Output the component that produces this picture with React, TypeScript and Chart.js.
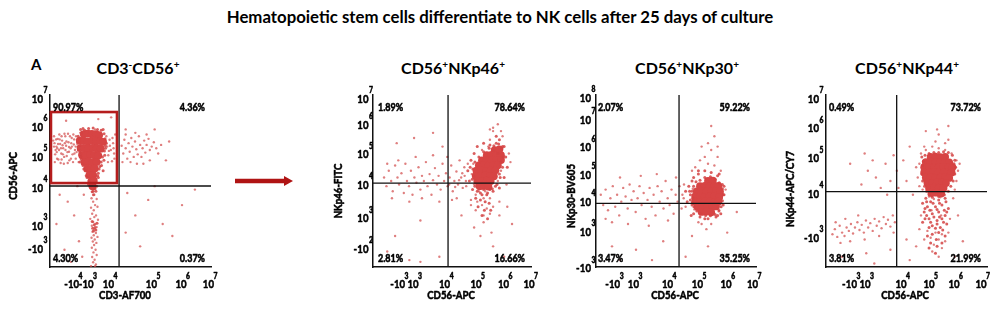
import React, { useEffect, useRef } from "react";
import { Chart, registerables } from "chart.js";
Chart.register(...registerables);

const MAIN_TITLE = "Hematopoietic stem cells differentiate to NK cells after 25 days of culture";

// ---------- Plot 1: CD3-AF700 vs CD56-APC (channel units 0-1000) ----------
const p1XTicks = [146, 236, 363, 630, 814, 984];
const p1XLabels = ["-10^4", "-10^3", "10^4", "10^5", "10^6", "10^7"];
const p1YTicks = [977, 814, 640, 459, 238, 105];
const p1YLabels = ["10^7", "10^6", "10^5", "10^4", "10^3", "-10^3"];
const p1Quadrant = [429, 471];
const p1Gate = [6, 488, 416, 901];
const p1Percent = ["90.97%", "4.36%", "4.30%", "0.37%"];
const p1Core = [
  [210, 772], [235, 776], [260, 774], [285, 772], [305, 766],
  [185, 735], [210, 732], [235, 730], [260, 734], [285, 730], [310, 732], [330, 728],
  [190, 692], [215, 690], [240, 688], [265, 692], [290, 690], [315, 688],
  [200, 650], [225, 648], [250, 652], [275, 650], [300, 648],
  [215, 610], [240, 612], [265, 608], [290, 610],
  [232, 572], [255, 570], [278, 572],
  [245, 536], [268, 534], [258, 500], [272, 502], [264, 470],
];
const p1Halo = [
  [178, 745], [182, 700], [186, 665], [195, 625], [205, 590], [218, 560], [230, 520], [242, 500], [250, 465], [280, 455],
  [288, 490], [296, 530], [305, 570], [318, 610], [326, 640], [338, 675], [344, 705], [342, 745], [336, 775], [318, 795],
  [295, 800], [268, 808], [240, 805], [215, 795], [195, 780], [172, 725], [176, 680], [188, 650], [310, 585], [300, 545],
  [256, 480], [268, 440], [175, 760], [190, 800], [205, 805], [330, 800], [350, 720], [340, 650], [190, 640], [200, 600],
  [320, 590], [330, 560], [210, 570], [225, 530], [300, 520], [240, 480], [290, 470], [345, 690], [335, 620], [185, 610],
  [270, 210], [280, 230], [265, 225], [275, 245], [285, 215], [262, 265], [292, 255], [270, 420], [262, 438], [285, 440],
];
const p1Dots = [
  [25, 700], [32, 655], [38, 742], [45, 690], [52, 625], [58, 770], [63, 715], [70, 660], [75, 735], [82, 690],
  [88, 640], [95, 760], [100, 705], [108, 668], [115, 725], [120, 620], [128, 690], [135, 750], [140, 655], [148, 712],
  [155, 680], [160, 630], [168, 740], [175, 695], [182, 655], [188, 780], [30, 610], [48, 745], [66, 605], [92, 720],
  [112, 775], [143, 610], [178, 610], [20, 735], [56, 680], [104, 645], [124, 760], [160, 700], [40, 700], [86, 600],
  [28, 720], [42, 668], [60, 742], [78, 708], [96, 680], [118, 698], [132, 720], [150, 742], [165, 668], [72, 625],
  [35, 680], [50, 715], [68, 690], [80, 655], [102, 730], [118, 670], [136, 700], [152, 660], [170, 715], [185, 690],
  [25, 760], [44, 630], [90, 775], [130, 630], [162, 760], [72, 760], [110, 605], [145, 770],
  [355, 700], [362, 650], [370, 740], [378, 680], [385, 615], [392, 720], [398, 660], [405, 770], [360, 610], [372, 705],
  [388, 750], [400, 630], [350, 760], [366, 675], [395, 690], [320, 770], [280, 800],
  [445, 705], [455, 660], [462, 740], [470, 690], [480, 630], [488, 720], [495, 670], [505, 750], [512, 700], [520, 640],
  [528, 730], [536, 685], [545, 655], [552, 760], [560, 710], [568, 640], [575, 690], [585, 735], [592, 665], [600, 710],
  [612, 745], [620, 680], [632, 700], [645, 725], [660, 690], [672, 660], [690, 710], [450, 610], [500, 610], [540, 600],
  [580, 600], [620, 620], [470, 770], [530, 780], [600, 770],
  [275, 420], [258, 400], [290, 395], [268, 380], [280, 360], [255, 345], [295, 350],
  [272, 330], [262, 310], [286, 300], [275, 290], [250, 280], [298, 275], [268, 262], [282, 250], [260, 240], [290, 232],
  [276, 220], [264, 205], [285, 198], [272, 185], [258, 170], [295, 175], [278, 160], [266, 148], [288, 140], [274, 128],
  [260, 112], [283, 100], [270, 85], [290, 70], [262, 58], [277, 42], [268, 28], [285, 15], [255, 5], [280, 5],
  [60, 420], [110, 380], [150, 300], [40, 250], [180, 150], [90, 100], [200, 60], [130, 30], [210, 420], [170, 470],
  [480, 430], [530, 300], [610, 390], [700, 250], [820, 360], [560, 120], [760, 180], [650, 470], [900, 450], [470, 200],
  [100, 850], [300, 860], [470, 800], [650, 800], [740, 730], [720, 620], [380, 870],
];

// ---------- Plot 2: CD56-APC vs NKp46-FITC ----------
const p2XTicks = [168, 253, 453, 652, 826, 987];
const p2XLabels = ["-10^3", "10^3", "10^4", "10^5", "10^6", "10^7"];
const p2YTicks = [977, 826, 655, 477, 283, 105];
const p2YLabels = ["10^7", "10^6", "10^5", "10^4", "10^3", "-10^2"];
const p2Quadrant = [475, 488];
const p2Percent = ["1.89%", "78.64%", "2.81%", "16.66%"];
const p2Core = [
  [770, 680], [800, 684],
  [720, 650], [750, 652], [780, 648], [810, 650],
  [690, 620], [720, 622], [750, 618], [780, 620], [810, 622],
  [670, 590], [700, 592], [730, 588], [760, 590], [790, 592],
  [655, 560], [685, 562], [715, 558], [745, 560], [775, 562],
  [650, 530], [680, 528], [710, 532], [740, 530], [765, 528],
  [660, 500], [690, 498], [720, 502], [745, 500],
  [675, 470], [705, 472], [730, 468],
];
const p2Halo = [
  [615, 580], [628, 510], [645, 470], [660, 440], [690, 420], [725, 430], [755, 455], [785, 480], [805, 520], [820, 580],
  [825, 640], [815, 690], [795, 715], [765, 705], [735, 690], [700, 670], [670, 640], [645, 610], [632, 570], [638, 530],
  [650, 500], [700, 450], [740, 450], [775, 470], [800, 540], [810, 610], [790, 660], [760, 680], [740, 710], [830, 700],
  [650, 400], [680, 390], [710, 380], [735, 370], [665, 350], [705, 330], [745, 330], [690, 300], [725, 280],
  [600, 560], [610, 500], [620, 620], [630, 450], [640, 660], [660, 700], [680, 430], [700, 720], [720, 420], [760, 440],
  [780, 720], [800, 460], [820, 700], [830, 520], [840, 640], [850, 580], [780, 760], [800, 740],
];
const p2Dots = [
  [650, 420], [740, 740], [860, 660], [820, 760], [760, 790], [700, 400], [740, 400], [660, 380], [690, 360], [720, 340],
  [650, 330], [700, 300], [760, 350], [740, 310], [800, 380], [620, 390], [590, 470], [580, 530], [600, 600], [625, 540],
  [870, 610], [845, 480], [640, 480], [670, 440], [710, 440], [790, 500], [810, 560], [635, 600], [690, 680], [730, 700],
  [760, 810], [790, 830], [740, 800], [810, 790],
  [70, 520], [85, 470], [100, 560], [115, 500], [125, 440], [140, 590], [155, 520], [165, 480], [180, 545], [195, 430],
  [205, 600], [215, 500], [228, 470], [240, 560], [250, 420], [262, 520], [275, 490], [288, 580], [300, 450], [310, 530],
  [322, 500], [335, 610], [345, 470], [358, 540], [370, 420], [380, 505], [392, 575], [405, 480], [415, 530], [428, 450],
  [440, 600], [450, 500], [462, 545], [472, 470], [485, 520], [495, 590], [505, 440], [515, 500], [528, 555], [538, 480],
  [548, 620], [558, 520], [568, 460], [578, 580], [588, 500], [120, 400], [230, 380], [310, 400], [420, 380], [500, 390],
  [160, 620], [270, 640], [380, 650], [470, 640], [90, 600], [530, 400], [482, 480], [520, 465], [545, 505], [565, 545],
  [620, 360], [700, 260], [750, 200], [680, 180], [800, 300], [760, 120], [640, 230], [850, 350], [880, 250], [560, 300],
  [140, 180], [300, 270], [90, 90], [420, 60], [300, 30], [230, 40], [830, 60],
  [150, 720], [260, 750], [380, 780], [440, 700],
];

// ---------- Plot 3: CD56-APC vs NKp30-BV605 ----------
const p3XTicks = [116, 234, 447, 634, 813, 978];
const p3XLabels = ["-10^3", "10^3", "10^4", "10^5", "10^6", "10^7"];
const p3YTicks = [984, 855, 696, 535, 380, 205, -8];
const p3YLabels = ["10^8", "10^7", "10^6", "10^5", "10^4", "10^3", "-10^3"];
const p3Quadrant = [519, 370];
const p3Percent = ["2.07%", "59.22%", "3.47%", "35.25%"];
const p3Core = [
  [700, 500], [730, 502],
  [650, 470], [680, 472], [710, 468], [740, 470], [765, 472],
  [630, 440], [660, 442], [690, 438], [720, 440], [750, 442], [775, 438],
  [620, 410], [650, 412], [680, 408], [710, 410], [740, 412], [770, 408],
  [620, 380], [650, 378], [680, 382], [710, 380], [740, 378], [765, 380],
  [635, 350], [665, 352], [695, 348], [725, 350], [750, 352],
  [660, 320], [690, 322], [720, 318],
];
const p3Halo = [
  [605, 400], [600, 440], [610, 470], [625, 495], [650, 505], [680, 520], [715, 525], [745, 510], [770, 490], [790, 455],
  [795, 420], [790, 385], [782, 350], [768, 325], [745, 305], [715, 298], [685, 300], [655, 310], [630, 325], [612, 350],
  [603, 375], [590, 390], [585, 440], [600, 500], [770, 540], [800, 470], [640, 560], [760, 300], [680, 280],
  [590, 420], [600, 360], [580, 470], [610, 520], [640, 540], [680, 560], [720, 550], [760, 530], [790, 480], [800, 420],
  [795, 360], [780, 310], [750, 290], [700, 280], [650, 290], [610, 310], [595, 300], [570, 380], [560, 440],
];
const p3Dots = [
  [620, 580], [700, 600], [740, 590], [760, 640], [680, 640], [720, 680], [650, 620], [600, 560], [660, 250], [720, 250],
  [690, 220], [640, 260], [810, 450], [780, 560], [560, 350], [540, 420], [550, 480], [605, 455], [615, 335], [785, 400],
  [770, 330], [700, 720], [740, 760], [660, 700], [760, 700], [720, 820],
  [30, 420], [45, 360], [60, 450], [75, 330], [90, 400], [105, 470], [120, 350], [132, 420], [145, 300], [158, 380],
  [170, 460], [185, 410], [198, 340], [210, 480], [222, 390], [235, 440], [248, 320], [260, 400], [272, 470], [285, 360],
  [298, 430], [310, 280], [322, 390], [335, 460], [348, 350], [360, 420], [372, 300], [385, 470], [398, 380], [410, 440],
  [422, 340], [435, 500], [448, 400], [460, 360], [472, 450], [485, 310], [498, 420], [510, 380], [522, 470], [535, 340],
  [548, 400], [100, 260], [200, 250], [330, 240], [450, 270], [150, 520], [280, 530], [380, 540], [60, 280], [500, 520],
  [100, 120], [250, 100], [420, 150], [600, 180], [700, 120], [820, 200], [560, 60], [350, 40], [150, 40], [880, 320],
];

// ---------- Plot 4: CD56-APC vs NKp44-APC/CY7 ----------
const p4XTicks = [158, 242, 466, 640, 795, 963];
const p4XLabels = ["-10^3", "10^3", "10^4", "10^5", "10^6", "10^7"];
const p4YTicks = [977, 806, 632, 423, 170];
const p4YLabels = ["10^7", "10^6", "10^5", "10^4", "-10^3"];
const p4Quadrant = [439, 438];
const p4Percent = ["0.49%", "73.72%", "3.81%", "21.99%"];
const p4Core = [
  [650, 640], [680, 642], [710, 638], [740, 640],
  [620, 610], [650, 612], [680, 608], [710, 610], [740, 612], [765, 608],
  [610, 580], [640, 582], [670, 578], [700, 580], [730, 582], [760, 578], [785, 580],
  [610, 550], [640, 548], [670, 552], [700, 550], [730, 548], [760, 552], [780, 550],
  [620, 520], [650, 522], [680, 518], [710, 520], [740, 522], [765, 518],
  [630, 490], [660, 488], [690, 492], [720, 490], [745, 488],
  [640, 460], [670, 462], [700, 458], [730, 460],
  [655, 430], [685, 432], [715, 428],
];
const p4Halo = [
  [595, 640], [600, 590], [595, 540], [600, 500], [612, 470], [625, 440], [640, 420], [660, 405], [700, 410], [735, 420],
  [760, 440], [775, 470], [790, 500], [800, 540], [805, 580], [800, 620], [785, 650], [760, 665], [730, 670], [700, 665],
  [670, 665], [640, 660], [615, 650], [605, 615], [795, 600],
  [625, 380], [665, 370], [705, 370], [745, 380], [615, 340], [645, 330], [690, 335], [735, 330], [625, 300], [670, 290],
  [705, 290], [750, 320], [615, 280], [650, 260], [690, 250], [730, 260], [640, 230], [680, 225], [725, 215], [660, 190],
  [700, 200], [740, 180], [630, 180], [685, 160], [720, 140], [650, 140], [690, 120], [640, 110], [680, 80],
  [620, 400], [650, 380], [700, 390], [740, 400], [600, 370], [630, 350], [680, 350], [720, 360], [760, 340], [610, 320],
  [660, 310], [700, 320], [740, 300], [640, 280], [690, 270], [720, 280], [600, 260], [660, 240], [710, 230], [750, 250],
];
const p4Dots = [
  [630, 210], [680, 200], [720, 190], [650, 170], [700, 160], [740, 150], [610, 160], [670, 130], [720, 110], [660, 90],
  [700, 60], [590, 300], [770, 280], [580, 220], [760, 200], [640, 410], [670, 395], [710, 405], [655, 330], [715, 300],
  [580, 600], [570, 520], [590, 660], [620, 680], [660, 700], [700, 690], [740, 680], [780, 660], [810, 620], [820, 560],
  [810, 500], [800, 450], [790, 400], [600, 450], [580, 470], [610, 700], [680, 730], [740, 720], [560, 580], [830, 600],
  [760, 740], [700, 770], [690, 800], [620, 790], [760, 820],
  [40, 190], [55, 220], [70, 175], [85, 240], [100, 200], [115, 180], [128, 230], [142, 210], [155, 250], [168, 195],
  [180, 230], [195, 260], [208, 215], [222, 245], [235, 200], [248, 270], [262, 230], [275, 255], [290, 210], [302, 280],
  [315, 240], [330, 265], [345, 225], [358, 290], [372, 250], [385, 275], [400, 235], [415, 300], [428, 260], [60, 260],
  [150, 150], [240, 160], [330, 180], [420, 200], [120, 280], [200, 300], [90, 140],
  [220, 480], [260, 560], [290, 620], [310, 520], [340, 460], [370, 600], [400, 500], [420, 650], [440, 560], [150, 600],
  [240, 660], [380, 420], [450, 460], [480, 620], [520, 700], [500, 500], [540, 420],
  [100, 60], [250, 80], [400, 100], [500, 160], [560, 120], [820, 300], [850, 150], [800, 60], [520, 40], [300, 20],
];

type Spec = {
  area: { l: number; t: number; r: number; b: number };
  xTicks: number[]; xLabels: string[]; yTicks: number[]; yLabels: string[];
  quad: number[]; gate?: number[]; pct: string[];
  core: number[][]; halo: number[][]; dots: number[][];
  yGap: number; pctLeft: number;
  xTitle: string; xTitlePos: number[]; yTitle: string; yTitlePos: number[];
};

const SPECS: Spec[] = [
  { area: { l: 50, t: 95, r: 211, b: 267 }, xTicks: p1XTicks, xLabels: p1XLabels, yTicks: p1YTicks, yLabels: p1YLabels,
    quad: p1Quadrant, gate: p1Gate, pct: p1Percent, core: p1Core, halo: p1Halo, dots: p1Dots, yGap: 7, pctLeft: 3,
    xTitle: "CD3-AF700", xTitlePos: [125, 295], yTitle: "CD56-APC", yTitlePos: [13, 176] },
  { area: { l: 373, t: 95, r: 531, b: 267 }, xTicks: p2XTicks, xLabels: p2XLabels, yTicks: p2YTicks, yLabels: p2YLabels,
    quad: p2Quadrant, pct: p2Percent, core: p2Core, halo: p2Halo, dots: p2Dots, yGap: 4.5, pctLeft: 5,
    xTitle: "CD56-APC", xTitlePos: [451, 295], yTitle: "NKp46-FITC", yTitlePos: [338, 191] },
  { area: { l: 596, t: 95, r: 756, b: 267 }, xTicks: p3XTicks, xLabels: p3XLabels, yTicks: p3YTicks, yLabels: p3YLabels,
    quad: p3Quadrant, pct: p3Percent, core: p3Core, halo: p3Halo, dots: p3Dots, yGap: 5, pctLeft: 2,
    xTitle: "CD56-APC", xTitlePos: [675, 295], yTitle: "NKp30-BV605", yTitlePos: [571, 196] },
  { area: { l: 826, t: 95, r: 987, b: 267 }, xTicks: p4XTicks, xLabels: p4XLabels, yTicks: p4YTicks, yLabels: p4YLabels,
    quad: p4Quadrant, pct: p4Percent, core: p4Core, halo: p4Halo, dots: p4Dots, yGap: 7, pctLeft: 3,
    xTitle: "CD56-APC", xTitlePos: [905, 295], yTitle: "NKp44-APC/CY7", yTitlePos: [790, 189] },
];

const FONT = "Lato, 'Open Sans', sans-serif";

function parseLabel(s: string) {
  const neg = s.startsWith("-");
  const body = neg ? s.slice(1) : s;
  const [base, exp] = body.split("^");
  return { neg, base, exp };
}

// draw horizontally condensed, slightly emboldened text (emulates a narrow heavy face)
function txt(ctx: CanvasRenderingContext2D, s: string, x: number, y: number, size: number, sx: number, align: CanvasTextAlign) {
  ctx.save();
  ctx.font = `bold ${size}px ${FONT}`;
  ctx.textAlign = align;
  ctx.textBaseline = "middle";
  ctx.fillStyle = "#000";
  ctx.strokeStyle = "#000";
  ctx.lineWidth = 0.55;
  ctx.lineJoin = "round";
  ctx.translate(x, y);
  ctx.scale(sx, 1);
  ctx.fillText(s, 0, 0);
  ctx.strokeText(s, 0, 0);
  ctx.restore();
}
function tw(ctx: CanvasRenderingContext2D, s: string, size: number, sx: number) {
  ctx.save();
  ctx.font = `bold ${size}px ${FONT}`;
  const w = ctx.measureText(s).width * sx;
  ctx.restore();
  return w;
}

const TICK = 12, TSX = 0.8, EXP = 8.5, PCT = 11, PSX = 0.82, AX = 11.5, ASX = 0.84;

function makePlugin(spec: Spec) {
  return {
    id: "flowDecor",
    afterDatasetsDraw(chart: any) {
      const { ctx, chartArea: a, scales } = chart;
      const x = scales.x, y = scales.y;
      ctx.save();
      ctx.strokeStyle = "#111";
      ctx.lineWidth = 1.3;
      const qx = x.getPixelForValue(spec.quad[0]);
      const qy = y.getPixelForValue(spec.quad[1]);
      ctx.beginPath();
      ctx.moveTo(qx, a.top);
      ctx.lineTo(qx, a.bottom);
      ctx.moveTo(a.left, qy);
      ctx.lineTo(a.right, qy);
      ctx.stroke();
      if (spec.gate) {
        const g = spec.gate;
        const gx0 = x.getPixelForValue(g[0]), gy0 = y.getPixelForValue(g[1]);
        const gx1 = x.getPixelForValue(g[2]), gy1 = y.getPixelForValue(g[3]);
        ctx.strokeStyle = "#b51d1d";
        ctx.lineWidth = 2.6;
        ctx.strokeRect(gx0, gy1, gx1 - gx0, gy0 - gy1);
      }
      spec.xTicks.forEach((v, i) => {
        const { neg, base, exp } = parseLabel(spec.xLabels[i]);
        const px = x.getPixelForValue(v);
        const w = tw(ctx, base, TICK, TSX);
        txt(ctx, base, px, a.bottom + 17, TICK, TSX, "center");
        if (neg) txt(ctx, "-", px - w / 2 - 0.2, a.bottom + 17, TICK, TSX, "right");
        txt(ctx, exp, px + w / 2 - 0.5, a.bottom + 9, EXP, TSX, "left");
      });
      spec.yTicks.forEach((v, i) => {
        const { neg, base, exp } = parseLabel(spec.yLabels[i]);
        const py = y.getPixelForValue(v);
        const right = a.left - spec.yGap;
        const w = tw(ctx, base, TICK, TSX);
        txt(ctx, base, right, py, TICK, TSX, "right");
        if (neg) txt(ctx, "-", right - w - 0.2, py, TICK, TSX, "right");
        txt(ctx, exp, right + 0.6, py - 8.5, EXP, TSX, "left");
      });
      txt(ctx, spec.pct[0], a.left + spec.pctLeft, a.top + 12, PCT, PSX, "left");
      txt(ctx, spec.pct[2], a.left + spec.pctLeft, a.bottom - 9, PCT, PSX, "left");
      txt(ctx, spec.pct[1], a.right - 6, a.top + 12, PCT, PSX, "right");
      txt(ctx, spec.pct[3], a.right - 6, a.bottom - 9, PCT, PSX, "right");
      txt(ctx, spec.xTitle, spec.xTitlePos[0], spec.xTitlePos[1], AX, ASX, "center");
      ctx.translate(spec.yTitlePos[0], spec.yTitlePos[1]);
      ctx.rotate(-Math.PI / 2);
      txt(ctx, spec.yTitle, 0, 0, AX, ASX, "center");
      ctx.restore();
    },
  };
}

function FlowChart({ spec }: { spec: Spec }) {
  const ref = useRef<HTMLCanvasElement>(null);
  useEffect(() => {
    const canvas = ref.current!;
    const { l, t, r, b } = spec.area;
    const axis = {
      type: "linear" as const,
      min: 0,
      max: 1000,
      ticks: { display: false },
      grid: { display: false, drawTicks: false },
      border: { display: true, color: "#111", width: 1.5 },
    };
    const chart = new Chart(canvas, {
      type: "scatter",
      data: {
        datasets: [
          {
            data: spec.dots.map(([x, y]) => ({ x, y })),
            pointRadius: 1.2,
            pointBackgroundColor: "rgba(210,72,72,0.7)",
            pointBorderWidth: 0,
          },
          {
            data: spec.halo.map(([x, y]) => ({ x, y })),
            pointRadius: 1.5,
            pointBackgroundColor: "rgba(212,66,66,0.85)",
            pointBorderWidth: 0,
          },
          {
            data: spec.core.map(([x, y]) => ({ x, y })),
            pointRadius: 3.9,
            pointBackgroundColor: "rgb(215,68,68)",
            pointBorderWidth: 0,
          },
        ],
      },
      options: {
        responsive: false,
        animation: false,
        devicePixelRatio: 1,
        layout: { padding: { left: l, top: t, right: 1000 - r, bottom: 311 - b } },
        plugins: { legend: { display: false }, tooltip: { enabled: false }, title: { display: false } },
        events: [],
        scales: { x: axis, y: axis },
      },
      plugins: [makePlugin(spec)],
    });
    return () => chart.destroy();
  }, [spec]);
  return (
    <canvas ref={ref} width={1000} height={311}
      style={{ position: "absolute", left: 0, top: 0, width: 1000, height: 311 }} />
  );
}

const PANEL_TITLES: { x: number; parts: [string, string][] }[] = [
  { x: 138, parts: [["CD3", "-"], ["CD56", "+"]] },
  { x: 453, parts: [["CD56", "+"], ["NKp46", "+"]] },
  { x: 687, parts: [["CD56", "+"], ["NKp30", "+"]] },
  { x: 907, parts: [["CD56", "+"], ["NKp44", "+"]] },
];

export default function App() {
  return (
    <div style={{ position: "fixed", left: 0, top: 0, width: 1000, height: 311, background: "#fff", overflow: "hidden", fontFamily: FONT }}>
      <div style={{ position: "absolute", left: 0, width: 1000, top: 7, textAlign: "center", fontWeight: 700, fontSize: 16.8, lineHeight: "20px", color: "#000" }}>
        {MAIN_TITLE}
      </div>
      <div style={{ position: "absolute", left: 31, top: 55, fontWeight: 700, fontSize: 15, lineHeight: "18px", color: "#000" }}>A</div>
      {PANEL_TITLES.map((p, i) => (
        <div key={i} style={{ position: "absolute", left: p.x, top: 68, transform: "translate(-50%, -50%)", whiteSpace: "nowrap", fontSize: 16, lineHeight: "22px", fontWeight: 700, color: "#000" }}>
          {p.parts.map(([t, s], j) => (
            <span key={j}>{t}<sup style={{ fontSize: 10, verticalAlign: "6px", lineHeight: 0 }}>{s}</sup></span>
          ))}
        </div>
      ))}
      <svg width={1000} height={311} style={{ position: "absolute", left: 0, top: 0 }}>
        <line x1={235} y1={181} x2={286} y2={181} stroke="#b01414" strokeWidth={4.5} />
        <polygon points="284,176 293,181 284,186" fill="#b01414" />
      </svg>
      {SPECS.map((s, i) => <FlowChart key={i} spec={s} />)}
    </div>
  );
}
